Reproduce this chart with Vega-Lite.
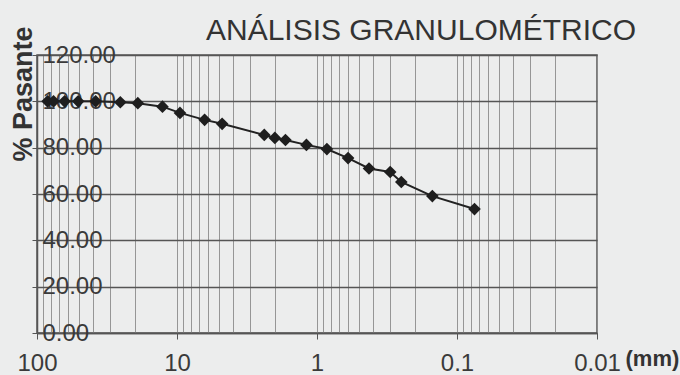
{
  "$schema": "https://vega.github.io/schema/vega-lite/v6.json",
  "autosize": "none",
  "width": 560,
  "height": 278,
  "padding": {"left": 37, "top": 55, "right": 83, "bottom": 42},
  "background": "#eceded",
  "title": {
    "text": "ANÁLISIS GRANULOMÉTRICO",
    "font": "Liberation Sans",
    "fontSize": 30,
    "fontWeight": "normal",
    "color": "#333333",
    "anchor": "middle",
    "dx": 104,
    "dy": 24
  },
  "config": {
    "view": {"stroke": "#555555", "strokeWidth": 1.5},
    "font": "Liberation Sans"
  },
  "data": {
    "values": [
      {"abertura": 84.0, "pasante": 100.0},
      {"abertura": 76.2, "pasante": 100.0},
      {"abertura": 63.5, "pasante": 100.0},
      {"abertura": 50.8, "pasante": 100.0},
      {"abertura": 38.1, "pasante": 100.0},
      {"abertura": 25.4, "pasante": 99.6},
      {"abertura": 19.05, "pasante": 99.2},
      {"abertura": 12.7, "pasante": 97.7},
      {"abertura": 9.525, "pasante": 95.0},
      {"abertura": 6.35, "pasante": 92.0},
      {"abertura": 4.76, "pasante": 90.3},
      {"abertura": 2.38, "pasante": 85.5},
      {"abertura": 2.0, "pasante": 84.2},
      {"abertura": 1.68, "pasante": 83.3},
      {"abertura": 1.19, "pasante": 81.2},
      {"abertura": 0.85, "pasante": 79.4},
      {"abertura": 0.6, "pasante": 75.5},
      {"abertura": 0.425, "pasante": 71.0},
      {"abertura": 0.3, "pasante": 69.5},
      {"abertura": 0.25, "pasante": 65.2},
      {"abertura": 0.15, "pasante": 59.1},
      {"abertura": 0.075, "pasante": 53.5}
    ]
  },
  "layer": [
    {
      "mark": {"type": "line", "color": "#222222", "strokeWidth": 2},
      "encoding": {
        "x": {
          "field": "abertura",
          "type": "quantitative",
          "scale": {"type": "log", "domain": [0.01, 100], "reverse": true},
          "axis": {
            "orient": "bottom",
            "values": [100, 90, 80, 70, 60, 50, 40, 30, 20, 10, 9, 8, 7, 6, 5, 4, 3, 2, 1, 0.9, 0.8, 0.7, 0.6, 0.5, 0.4, 0.3, 0.2, 0.1, 0.09, 0.08, 0.07, 0.06, 0.05, 0.04, 0.03, 0.02, 0.01],
            "grid": true,
            "gridColor": "#8c8c8c",
            "gridWidth": 0.9,
            "gridOpacity": 1,
            "labels": false,
            "ticks": false,
            "domain": false,
            "title": null
          }
        },
        "y": {
          "field": "pasante",
          "type": "quantitative",
          "scale": {"domain": [0, 120], "nice": false},
          "axis": {
            "values": [0, 20, 40, 60, 80, 100, 120],
            "format": ".2f",
            "grid": true,
            "gridColor": "#555555",
            "gridWidth": 1.3,
            "gridOpacity": 1,
            "domainColor": "#555555",
            "domainWidth": 1.5,
            "tickColor": "#555555",
            "tickSize": 5,
            "labelAlign": "left",
            "labelBaseline": "middle",
            "labelPadding": -10,
            "labelFontSize": 24,
            "labelColor": "#3a3a3a",
            "labelFont": "Liberation Sans",
            "title": "% Pasante",
            "titleFont": "Liberation Sans",
            "titleFontSize": 27,
            "titleFontWeight": "bold",
            "titleColor": "#333333",
            "titleAngle": 270,
            "titleX": -14,
            "titleY": -29,
            "titleAlign": "right",
            "titleBaseline": "middle"
          }
        }
      }
    },
    {
      "mark": {"type": "point", "shape": "diamond", "filled": true, "color": "#1e1e1e", "size": 160, "opacity": 1},
      "encoding": {
        "x": {
          "field": "abertura",
          "type": "quantitative",
          "scale": {"type": "log", "domain": [0.01, 100], "reverse": true},
          "axis": {
            "orient": "bottom",
            "values": [100, 10, 1, 0.1, 0.01],
            "format": "~g",
            "grid": false,
            "labelFlush": false,
            "labelFontSize": 24,
            "labelColor": "#3a3a3a",
            "labelFont": "Liberation Sans",
            "labelPadding": 12,
            "tickSize": 6,
            "tickColor": "#555555",
            "domainColor": "#555555",
            "domainWidth": 1.5,
            "title": "(mm)",
            "titleFont": "Liberation Sans",
            "titleFontSize": 22,
            "titleFontWeight": "bold",
            "titleColor": "#333333",
            "titleX": 588,
            "titleY": 15,
            "titleAlign": "left",
            "titleBaseline": "top"
          }
        },
        "y": {
          "field": "pasante",
          "type": "quantitative",
          "scale": {"domain": [0, 120], "nice": false}
        }
      }
    }
  ],
  "resolve": {"axis": {"x": "independent"}}
}
